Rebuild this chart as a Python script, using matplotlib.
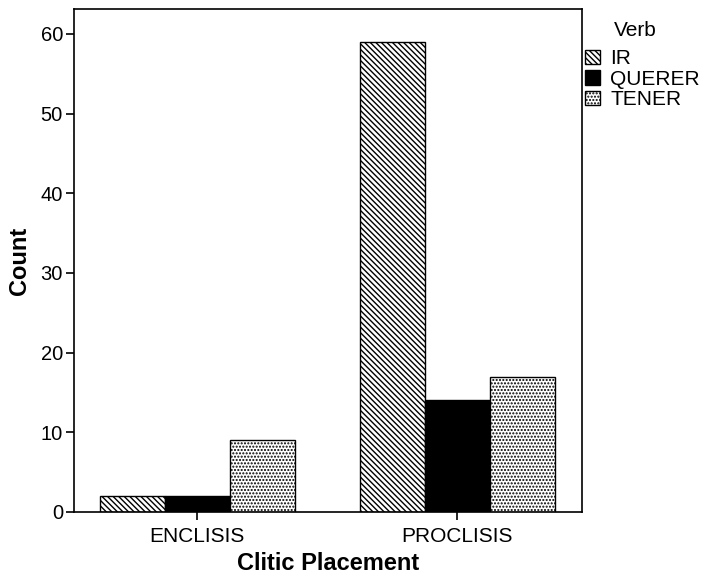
import matplotlib
matplotlib.use("Agg")
import matplotlib.pyplot as plt
import numpy as np
from matplotlib.patches import Patch

plt.rcParams['font.family'] = ['Liberation Sans', 'DejaVu Sans']
plt.rcParams['hatch.linewidth'] = 1.0

categories = ["ENCLISIS", "PROCLISIS"]
series_names = ["IR", "QUERER", "TENER"]
legend_title = "Verb"
ir = [2, 59]
querer = [2, 14]
tener = [9, 17]
yticks = [0, 10, 20, 30, 40, 50, 60]

fig = plt.figure(figsize=(7.02, 5.75), dpi=100)
ax = fig.add_axes([0.1054, 0.1096, 0.7236, 0.8744])

x = np.arange(len(categories))
w = 0.25
hatch_ir = '\\' * 6
hatch_tener = '.' * 5
styles = [dict(facecolor='white', hatch=hatch_ir),
          dict(facecolor='black', hatch=None),
          dict(facecolor='white', hatch=hatch_tener)]
for i, (vals, st) in enumerate(zip([ir, querer, tener], styles)):
    ax.bar(x + (i - 1) * w, vals, width=w, edgecolor='black', linewidth=1.0, **st)

ax.set_xlim(-0.475, 1.48)
ax.set_ylim(0, 63.1)
ax.set_xticks(x)
ax.set_xticklabels(categories, fontsize=15)
ax.set_yticks(yticks)
ax.set_yticklabels([str(t) for t in yticks], fontsize=14.5)
ax.tick_params(axis='y', direction='out', length=6, width=1.2, pad=2)
ax.tick_params(axis='x', direction='out', length=6, width=1.2, pad=5)
for s in ax.spines.values():
    s.set_linewidth(1.2)
ax.set_xlabel("Clitic Placement", fontsize=17, fontweight='bold', labelpad=4)
ax.set_ylabel("Count", fontsize=17, fontweight='bold', labelpad=7)

fig.text(635 / 702, 1 - 36 / 575, legend_title, ha='center', va='baseline', fontsize=15)
handles = [Patch(facecolor='white', edgecolor='black', hatch=hatch_ir),
           Patch(facecolor='black', edgecolor='black'),
           Patch(facecolor='white', edgecolor='black', hatch=hatch_tener)]
leg = fig.legend(handles, series_names, loc='upper left',
                 bbox_to_anchor=(0.819, 1 - 39 / 575), frameon=False, fontsize=15,
                 handlelength=0.7, handleheight=0.7,
                 handletextpad=0.5, labelspacing=0.07, borderpad=0)

fig.savefig("out.png", dpi=100)
